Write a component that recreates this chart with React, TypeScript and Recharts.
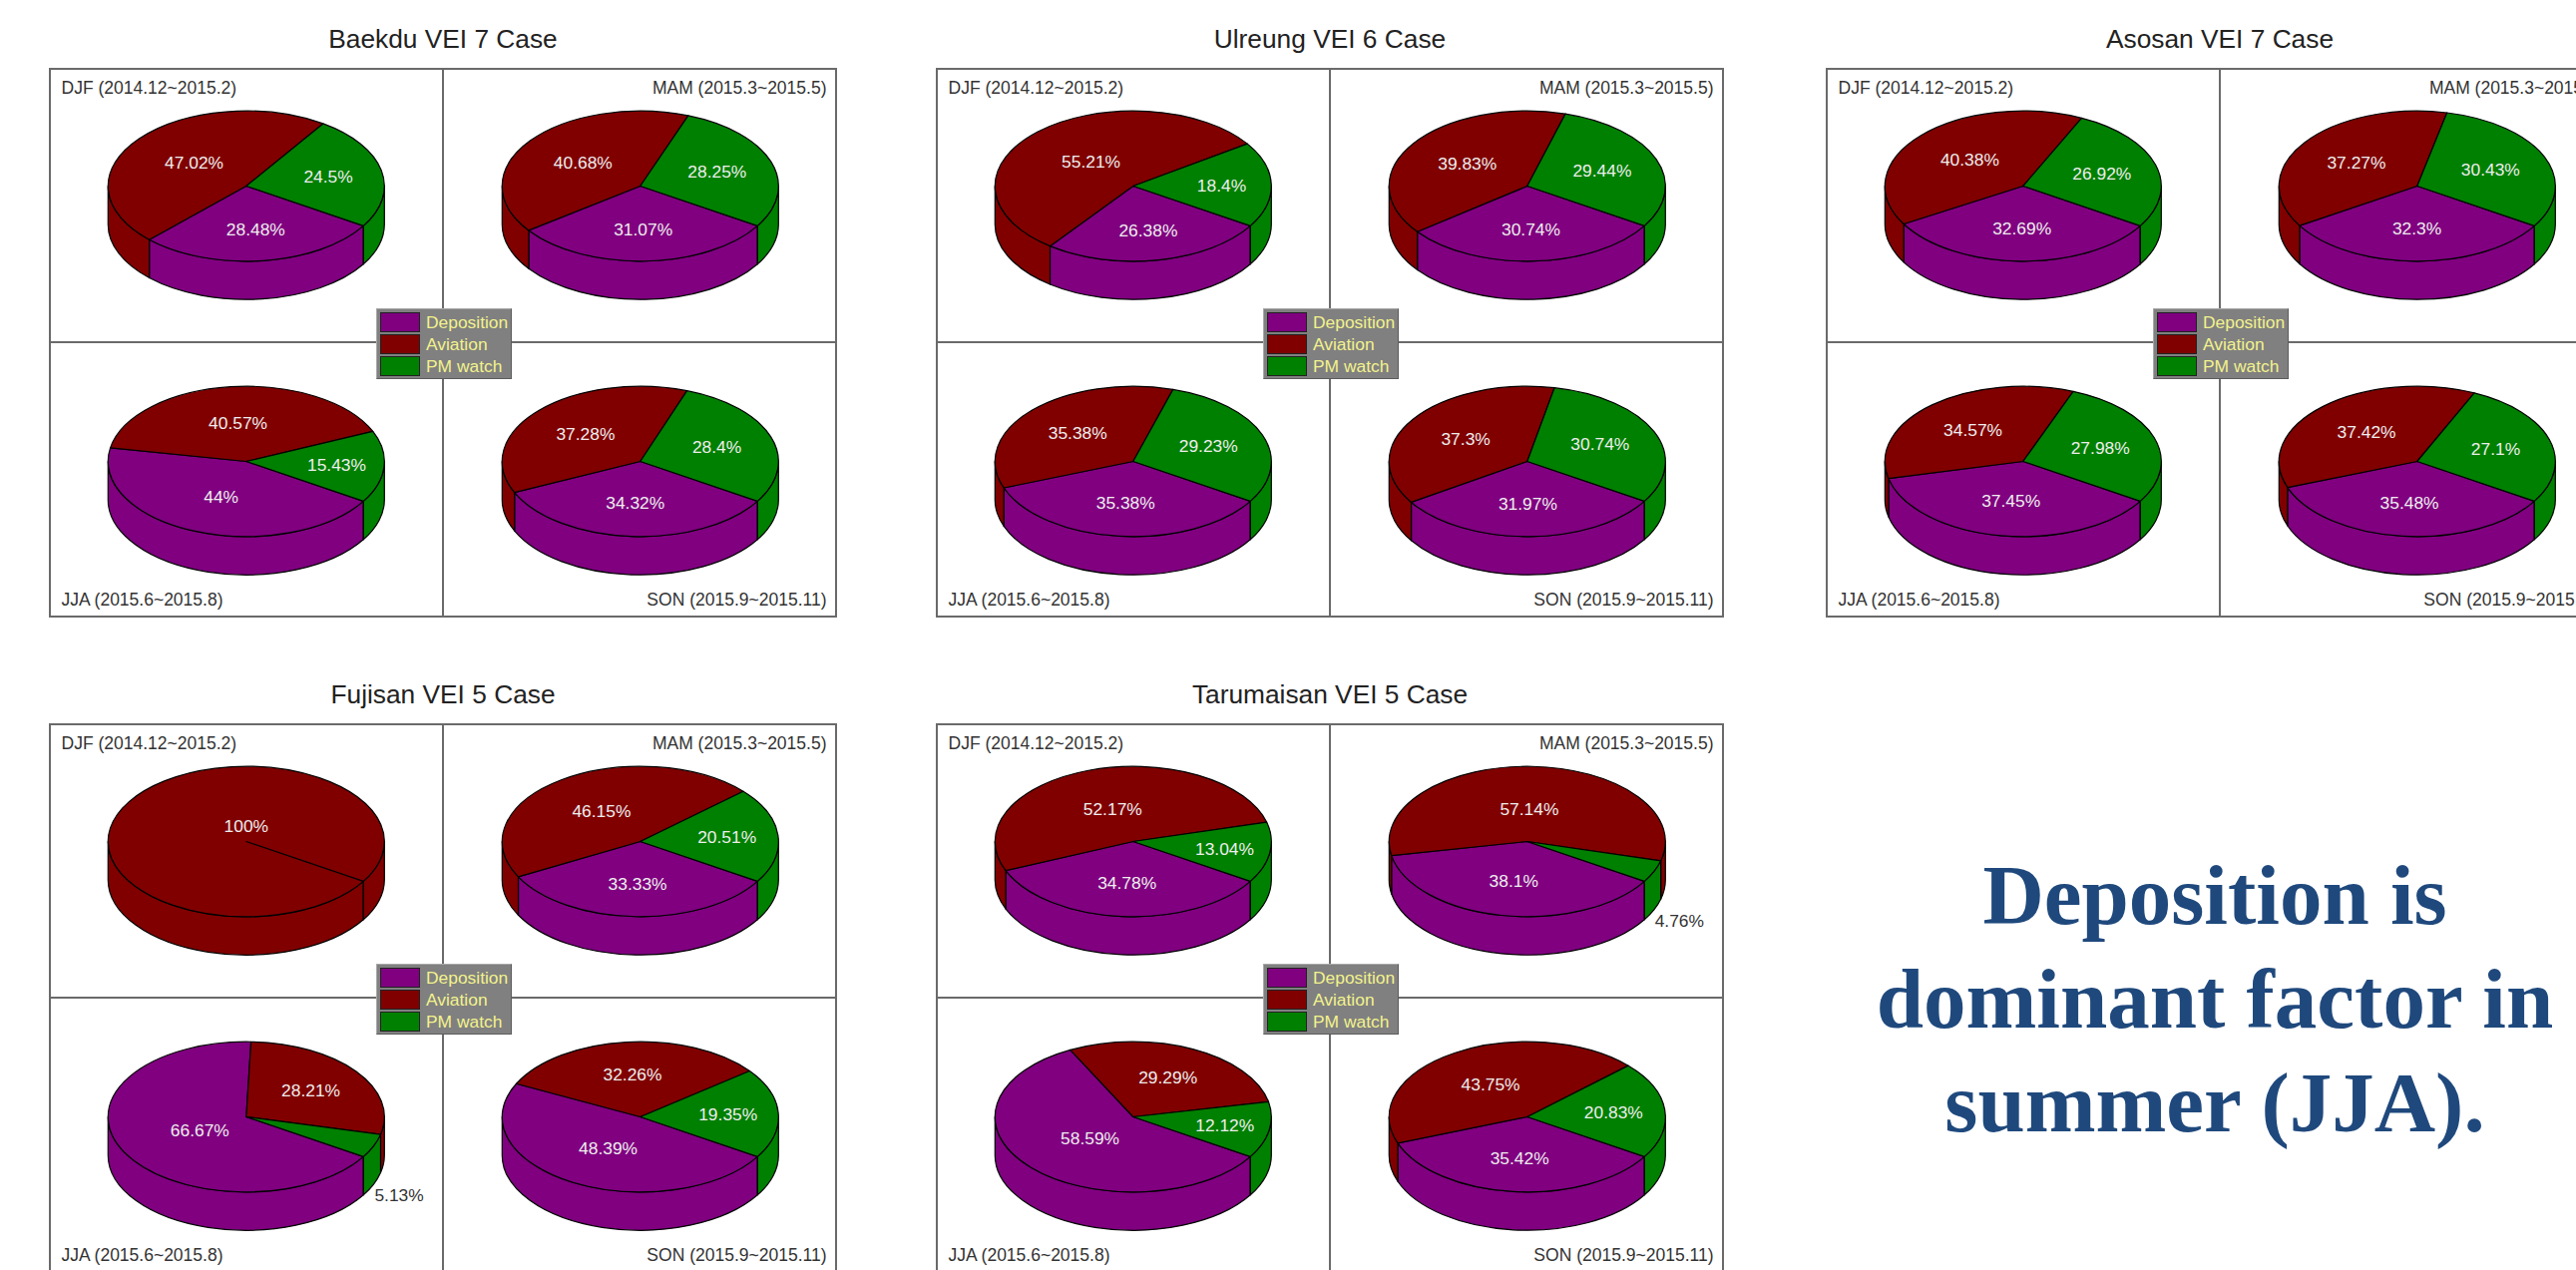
import React from 'react';
import { PieChart, Pie } from 'recharts';

const seriesNames = ['Deposition', 'Aviation', 'PM watch'];
const seriesColors = ['#800080', '#800000', '#008000'];
const seasonLabels = [
  'DJF (2014.12~2015.2)',
  'MAM (2015.3~2015.5)',
  'JJA (2015.6~2015.8)',
  'SON (2015.9~2015.11)',
];

// each series lists DJF, MAM, JJA, SON
const baekduDeposition = [28.48, 31.07, 44, 34.32];
const baekduAviation = [47.02, 40.68, 40.57, 37.28];
const baekduPmWatch = [24.5, 28.25, 15.43, 28.4];

const ulreungDeposition = [26.38, 30.74, 35.38, 31.97];
const ulreungAviation = [55.21, 39.83, 35.38, 37.3];
const ulreungPmWatch = [18.4, 29.44, 29.23, 30.74];

const asosanDeposition = [32.69, 32.3, 37.45, 35.48];
const asosanAviation = [40.38, 37.27, 34.57, 37.42];
const asosanPmWatch = [26.92, 30.43, 27.98, 27.1];

const fujisanDeposition = [0, 33.33, 66.67, 48.39];
const fujisanAviation = [100, 46.15, 28.21, 32.26];
const fujisanPmWatch = [0, 20.51, 5.13, 19.35];

const tarumaisanDeposition = [34.78, 38.1, 58.59, 35.42];
const tarumaisanAviation = [52.17, 57.14, 29.29, 43.75];
const tarumaisanPmWatch = [13.04, 4.76, 12.12, 20.83];

const panels = [
  { title: 'Baekdu VEI 7 Case', left: 49, top: 68, series: [baekduDeposition, baekduAviation, baekduPmWatch] },
  { title: 'Ulreung VEI 6 Case', left: 938, top: 68, series: [ulreungDeposition, ulreungAviation, ulreungPmWatch] },
  { title: 'Asosan VEI 7 Case', left: 1830, top: 68, series: [asosanDeposition, asosanAviation, asosanPmWatch] },
  { title: 'Fujisan VEI 5 Case', left: 49, top: 725, series: [fujisanDeposition, fujisanAviation, fujisanPmWatch] },
  { title: 'Tarumaisan VEI 5 Case', left: 938, top: 725, series: [tarumaisanDeposition, tarumaisanAviation, tarumaisanPmWatch] },
];

const PANEL_W = 790;
const PANEL_H = 551;
const MID_X = 395;
const MID_Y = 275;
const RADIUS = 138.5;
const TILT = 75.3 / 138.5;
const DEPTH = 38.4;
const START_ANGLE = -32;
const FONT = '"Liberation Sans", Arial, sans-serif';
const FRAME_COLOR = '#6a6a6a';

// centre of each pie inside a panel, same order as seasonLabels
const pieCentres = [
  { cx: 197.8, cy: 118.5 },
  { cx: 592.8, cy: 118.5 },
  { cx: 197.8, cy: 394.5 },
  { cx: 592.8, cy: 394.5 },
];

const rimPoint = (cx: number, cy: number, r: number, deg: number) => {
  const rad = (deg * Math.PI) / 180;
  return [cx + r * Math.cos(rad), cy + r * TILT * Math.sin(rad)];
};

// clockwise elliptical arc, split in two so a full turn still draws
const rimArc = (cx: number, cy: number, r: number, from: number, to: number, dy = 0) => {
  const mid = rimPoint(cx, cy + dy, r, (from + to) / 2);
  const end = rimPoint(cx, cy + dy, r, to);
  const ry = r * TILT;
  const sweep = to > from ? 1 : 0;
  return `A${r} ${ry} 0 0 ${sweep} ${mid[0]} ${mid[1]} A${r} ${ry} 0 0 ${sweep} ${end[0]} ${end[1]}`;
};

const Slice3D = (props: any) => {
  const { cx, cy, outerRadius: r, startAngle, endAngle, fill } = props;
  const from = -startAngle;
  const to = -endAngle;
  const start = rimPoint(cx, cy, r, from);
  const top = `M${cx} ${cy} L${start[0]} ${start[1]} ${rimArc(cx, cy, r, from, to)} Z`;

  // only the front half of the rim shows a wall
  const walls = [[0, 180], [360, 540]]
    .map(([lo, hi]) => [Math.max(lo, from), Math.min(hi, to)])
    .filter(([a, b]) => b > a)
    .map(([a, b]) => {
      const p = rimPoint(cx, cy, r, a);
      const q = rimPoint(cx, cy + DEPTH, r, b);
      return `M${p[0]} ${p[1]} ${rimArc(cx, cy, r, a, b)} L${q[0]} ${q[1]} ${rimArc(cx, cy, r, b, a, DEPTH)} Z`;
    });

  return (
    <g>
      {walls.map((d) => (
        <path key={d} d={d} fill={fill} stroke="#000" strokeWidth={1.2} strokeLinejoin="round" />
      ))}
      <path d={top} fill={fill} stroke="#000" strokeWidth={1.2} strokeLinejoin="round" />
    </g>
  );
};

const SliceLabel = (props: any) => {
  const { cx, cy, outerRadius: r, midAngle, percent, value } = props;
  let x: number;
  let y: number;
  let color = '#eeeeee';
  if (percent < 0.06) {
    // thin slices carry their label outside the pie
    const p = rimPoint(cx, cy + DEPTH + 5, r * 1.2, -midAngle);
    x = p[0];
    y = p[1];
    color = '#333';
  } else {
    const deg = percent >= 1 ? 270 : -midAngle;
    const p = rimPoint(cx, cy, r * (0.74 - 0.54 * percent), deg);
    x = p[0];
    y = p[1];
  }
  return (
    <text x={x} y={y} fill={color} fontSize={17.4} fontFamily={FONT} textAnchor="middle" dominantBaseline="central">
      {`${value}%`}
    </text>
  );
};

const pieData = (series: number[][], season: number) =>
  seriesNames
    .map((name, i) => ({ name, value: series[i][season], fill: seriesColors[i] }))
    .filter((d) => d.value > 0);

const SeriesKey = () => (
  <div
    style={{
      position: 'absolute',
      left: 328,
      top: 241,
      width: 136,
      height: 71,
      boxSizing: 'border-box',
      background: '#808080',
      border: '1.5px solid',
      borderColor: '#a8a8a8 #5c5c5c #5c5c5c #a8a8a8',
    }}
  >
    {seriesNames.map((name, i) => (
      <div key={name} style={{ position: 'absolute', left: 3, top: 2.5 + i * 22.2, height: 20, whiteSpace: 'nowrap' }}>
        <span
          style={{
            position: 'absolute',
            left: 0,
            top: 0,
            width: 40,
            height: 20,
            boxSizing: 'border-box',
            background: seriesColors[i],
            border: '1.5px solid #222',
          }}
        />
        <span
          style={{
            position: 'absolute',
            left: 46,
            top: 0,
            lineHeight: '20px',
            fontSize: 17.4,
            fontFamily: FONT,
            color: '#f2f28c',
          }}
        >
          {name}
        </span>
      </div>
    ))}
  </div>
);

const seasonLabelStyle = (i: number): React.CSSProperties => ({
  position: 'absolute',
  top: i < 2 ? 10 : 522.5,
  left: i % 2 === 0 ? 12.5 : undefined,
  right: i % 2 === 0 ? undefined : 10.5,
  lineHeight: '20px',
  fontSize: 17.5,
  fontFamily: FONT,
  color: '#333',
  whiteSpace: 'nowrap',
});

const VolcanoPanel = ({ title, left, top, series }: (typeof panels)[number]) => (
  <div style={{ position: 'absolute', left, top, width: PANEL_W, height: PANEL_H }}>
    <div
      style={{
        position: 'absolute',
        left: 0,
        right: 0,
        top: -45,
        lineHeight: '32px',
        textAlign: 'center',
        fontSize: 26.3,
        fontFamily: FONT,
        color: '#222',
      }}
    >
      {title}
    </div>
    <div style={{ position: 'absolute', inset: 0, boxSizing: 'border-box', border: `2px solid ${FRAME_COLOR}` }} />
    <div style={{ position: 'absolute', left: MID_X - 1, top: 0, bottom: 0, width: 2, background: FRAME_COLOR }} />
    <div style={{ position: 'absolute', top: MID_Y - 1, left: 0, right: 0, height: 2, background: FRAME_COLOR }} />
    {seasonLabels.map((label, i) => (
      <div key={label} style={seasonLabelStyle(i)}>
        {label}
      </div>
    ))}
    <div style={{ position: 'absolute', left: 0, top: 0 }}>
      <PieChart width={PANEL_W} height={PANEL_H} margin={{ top: 0, right: 0, bottom: 0, left: 0 }}>
        {pieCentres.map((c, season) => (
          <Pie
            key={season}
            data={pieData(series, season)}
            dataKey="value"
            nameKey="name"
            cx={c.cx}
            cy={c.cy}
            innerRadius={0}
            outerRadius={RADIUS}
            startAngle={START_ANGLE}
            endAngle={START_ANGLE - 360}
            shape={Slice3D}
            label={SliceLabel}
            labelLine={false}
            isAnimationActive={false}
          />
        ))}
      </PieChart>
    </div>
    <SeriesKey />
  </div>
);

export default function App() {
  return (
    <div
      style={{
        position: 'absolute',
        left: 0,
        top: 0,
        width: 2582,
        height: 1273,
        overflow: 'hidden',
        background: '#fff',
      }}
    >
      {panels.map((p) => (
        <VolcanoPanel key={p.title} {...p} />
      ))}
      <div
        style={{
          position: 'absolute',
          left: 1840,
          top: 845,
          width: 760,
          textAlign: 'center',
          fontFamily: '"Liberation Serif", "Times New Roman", serif',
          fontWeight: 700,
          fontSize: 85,
          lineHeight: '104px',
          color: '#1f497d',
        }}
      >
        Deposition is
        <br />
        dominant factor in
        <br />
        summer (JJA).
      </div>
    </div>
  );
}
